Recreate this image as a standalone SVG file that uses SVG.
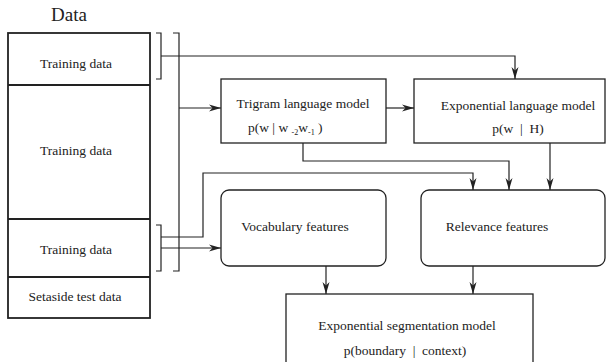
<svg xmlns="http://www.w3.org/2000/svg" width="606" height="362" viewBox="0 0 606 362">
<style>
text{font-family:"Liberation Serif","Times New Roman",serif;fill:#222;font-size:13.5px}
.ln{fill:none;stroke:#222;stroke-width:1.2}
.box{fill:#fff;stroke:#222;stroke-width:1.3}
.data{fill:#fff;stroke:#222;stroke-width:1.8}
.arr{marker-end:url(#ah)}
.m{text-anchor:middle}
.sub{font-size:8px}
</style>
<defs>
<marker id="ah" viewBox="0 0 12 8" refX="12" refY="4" markerWidth="12" markerHeight="8" markerUnits="userSpaceOnUse" orient="auto">
<path d="M0,0.5 L12,4 L0,7.5 L3.5,4 z" fill="#222"/>
</marker>
</defs>
<g id="data">
<text x="69" y="21" class="m" style="font-size:19px">Data</text>
<rect class="data" x="8" y="33" width="142" height="285"/>
<line class="data" x1="8" y1="85" x2="150" y2="85"/>
<line class="data" x1="8" y1="219" x2="150" y2="219"/>
<line class="data" x1="8" y1="277" x2="150" y2="277"/>
<text x="76" y="68" class="m">Training data</text>
<text x="76" y="155" class="m">Training data</text>
<text x="76" y="254" class="m">Training data</text>
<text x="75" y="301" class="m">Setaside test data</text>
</g>
<g id="connectors">
<path class="ln" d="M156,33 H161 V79 H156"/>
<path class="ln" d="M173,33 H179 V271 H173"/>
<path class="ln" d="M156,225 H161 V271 H156"/>
<path class="ln arr" d="M161,56 H515 V79"/>
<path class="ln arr" d="M179,108 H221"/>
<path class="ln arr" d="M161,248 H221"/>
<path class="ln arr" d="M161,237 H203 V173 H473 V190"/>
<path class="ln arr" d="M386,108 H414"/>
<path class="ln arr" d="M303,143 V161 H509 V190"/>
<path class="ln arr" d="M550,143 V190"/>
<path class="ln arr" d="M326,266 V294"/>
<path class="ln arr" d="M473,266 V294"/>
</g>
<g id="trigram">
<rect class="box" x="221" y="79" width="165" height="64"/>
<text x="303" y="108" class="m">Trigram language model</text>
<text x="248" y="132">p(w | w <tspan class="sub" dy="3">-2</tspan><tspan dy="-3">w</tspan><tspan class="sub" dy="3">-1</tspan><tspan dy="-3">&#160;)</tspan></text>
</g>
<g id="explm">
<rect class="box" x="414" y="79" width="191" height="64"/>
<text x="518" y="110" class="m">Exponential language model</text>
<text x="518" y="133" class="m">p(w&#160;&#160;|&#160;&#160;H)</text>
</g>
<g id="vocab">
<rect class="box" x="221" y="190" width="165" height="76" rx="8"/>
<text x="295" y="231" class="m">Vocabulary features</text>
</g>
<g id="relevance">
<rect class="box" x="421" y="190" width="184" height="76" rx="8"/>
<text x="497" y="231" class="m">Relevance features</text>
</g>
<g id="segmentation">
<rect class="box" x="286" y="294" width="247" height="80"/>
<text x="407" y="330" class="m">Exponential segmentation model</text>
<text x="405" y="355" class="m">p(boundary&#160;&#160;|&#160;&#160;context)</text>
</g>
</svg>
